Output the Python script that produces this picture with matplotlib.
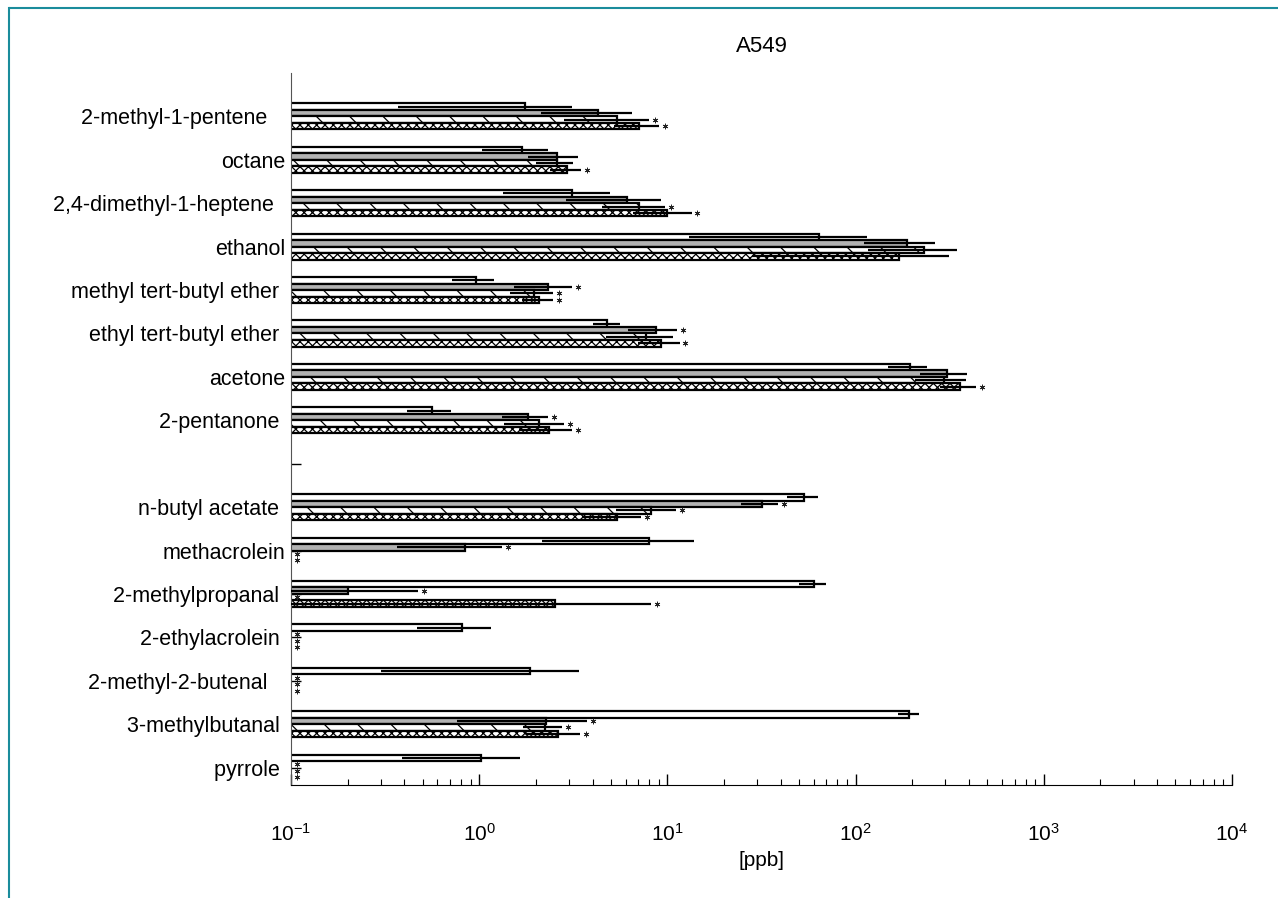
import numpy as np
import matplotlib
matplotlib.use("Agg")
import matplotlib.pyplot as plt
from matplotlib.lines import Line2D

# compound names (empty slot between the two groups), trailing spaces as in the original
compounds = ["2-methyl-1-pentene   ", "octane", "2,4-dimethyl-1-heptene  ", "ethanol",
             "methyl tert-butyl ether ", "ethyl tert-butyl ether ", "acetone", "2-pentanone ",
             "", "n-butyl acetate ", "methacrolein", "2-methylpropanal ", "2-ethylacrolein ",
             "2-methyl-2-butenal   ", "3-methylbutanal ", "pyrrole "]

# series 1 (white)
vals_1 = [1.75, 1.68, 3.13, 64, 0.96, 4.8, 195, 0.56, 0, 53, 8.0, 60, 0.81, 1.85, 193, 1.02]
err_1 = [1.38, 0.65, 1.8, 51, 0.245, 0.8, 46, 0.147, 0, 10, 5.85, 9.8, 0.34, 1.55, 25, 0.63]
sig_1 = [0, 0, 0, 0, 0, 0, 0, 0, 0, 0, 0, 0, 0, 0, 0, 0]
# series 2 (gray)
vals_2 = [4.30, 2.58, 6.08, 187, 2.33, 8.7, 305, 1.82, 0, 31.7, 0.84, 0.2, 0, 0, 2.26, 0]
err_2 = [2.18, 0.76, 3.18, 76, 0.8, 2.5, 84, 0.5, 0, 7.2, 0.476, 0.275, 0, 0, 1.5, 0]
sig_2 = [0, 0, 0, 0, 1, 1, 0, 1, 0, 1, 1, 1, 1, 1, 1, 1]
# series 3 (hatched)
vals_3 = [5.38, 2.58, 7.09, 231, 1.96, 7.7, 296, 2.09, 0, 8.2, 0, 0, 0, 0, 2.24, 0]
err_3 = [2.57, 0.58, 2.6, 115, 0.51, 3.0, 90, 0.74, 0, 2.9, 0, 0, 0, 0, 0.53, 0]
sig_3 = [1, 0, 1, 0, 1, 0, 0, 1, 0, 1, 1, 1, 1, 1, 1, 1]
# series 4 (cross hatched)
vals_4 = [7.09, 2.92, 10.0, 170, 2.08, 9.3, 359, 2.36, 0, 5.38, 0, 2.53, 0, 0, 2.61, 0]
err_4 = [1.9, 0.55, 3.44, 142, 0.4, 2.3, 79, 0.74, 0, 1.87, 0, 5.7, 0, 0, 0.84, 0]
sig_4 = [1, 1, 1, 0, 1, 1, 1, 1, 0, 1, 1, 1, 1, 1, 1, 1]

series = [(vals_1, err_1, sig_1), (vals_2, err_2, sig_2), (vals_3, err_3, sig_3), (vals_4, err_4, sig_4)]
looks = [("white", None), ("#b2b2b2", None), ("white", "\\"), ("white", "xxxx")]

plt.rcParams["font.family"] = ["Liberation Sans", "DejaVu Sans"]
plt.rcParams["hatch.linewidth"] = 0.9

fig = plt.figure(figsize=(12.78, 8.98), dpi=100)
ax = fig.add_axes([291 / 1278, 1 - 785 / 898, 941 / 1278, 712 / 898])
ax.set_xscale("log")
ax.set_axisbelow(True)

ypos = np.arange(1, len(compounds) + 1)
bar_h = 0.15
for k, (vals, errs, sig) in enumerate(series):
    v = np.array(vals, float)
    e = np.array(errs, float)
    y = ypos + (k - 1.5) * bar_h
    face, hatch = looks[k]
    ax.barh(y, v, height=bar_h, left=1e-3, facecolor=face, edgecolor="black",
            linewidth=1.6, hatch=hatch, zorder=2)
    m = e > 0
    ax.errorbar(v[m], y[m], xerr=e[m], fmt="none", ecolor="black", elinewidth=1.6,
                capsize=0, zorder=3)
    s = np.array(sig, bool)
    xs = np.where(v > 0, (v + e) * 1.075, 0.108)
    ax.plot(xs[s], y[s], ls="none", marker=(6, 2, 0), ms=4, mew=0.6, color="#222222", zorder=4)

ax.set_xlim(0.1, 1e4)
ax.set_ylim(16.4, 0)
ax.set_yticks(ypos)
ax.set_yticklabels(compounds, fontsize=15.5)
ax.tick_params(axis="y", direction="in", length=7, width=1, pad=4)
ax.tick_params(axis="x", which="major", direction="in", length=8, width=1, pad=27, labelsize=15)
ax.tick_params(axis="x", which="minor", direction="in", length=4, width=0.8)
ax.spines["top"].set_visible(False)
ax.spines["right"].set_visible(False)
ax.spines["left"].set_color("#555555")
ax.set_xlabel("[ppb]", fontsize=15, labelpad=5)
ax.set_title("A549", fontsize=16, pad=15)

# teal frame on top and left
fig.add_artist(Line2D([10 / 1278, 1], [1 - 8 / 898, 1 - 8 / 898], color="#1a8c9c", lw=1.5))
fig.add_artist(Line2D([9 / 1278, 9 / 1278], [0, 1 - 8 / 898], color="#1a8c9c", lw=1.5))

fig.savefig("out.png", dpi=100)
